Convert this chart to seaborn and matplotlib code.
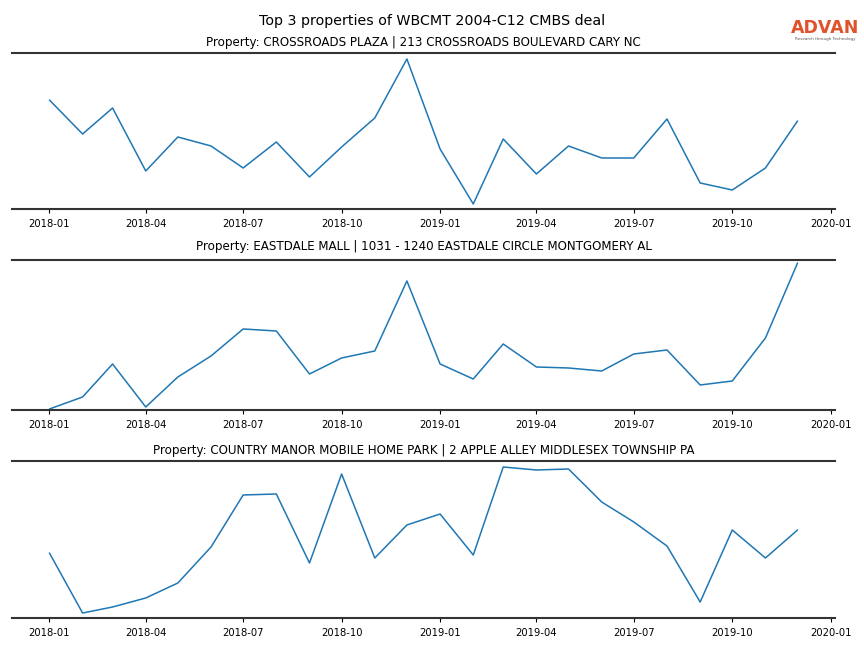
import matplotlib
matplotlib.use("Agg")
import matplotlib.pyplot as plt
import pandas as pd
import numpy as np
import seaborn as sns

sns.set_style("white")
plt.rcParams["text.color"] = "black"
plt.rcParams["axes.titlecolor"] = "black"

## Data (arbitrary units)
months = pd.date_range("2018-01-01", "2019-12-01", freq="MS")

titles = [
    "Property: CROSSROADS PLAZA | 213 CROSSROADS BOULEVARD CARY NC",
    "Property: EASTDALE MALL | 1031 - 1240 EASTDALE CIRCLE MONTGOMERY AL",
    "Property: COUNTRY MANOR MOBILE HOME PARK | 2 APPLE ALLEY MIDDLESEX TOWNSHIP PA",
]

crossroads = [109, 75, 101, 38, 72, 63, 41, 67, 32, 62, 91, 150,
              60, 5, 70, 35, 63, 51, 51, 90, 26, 19, 41, 88]
eastdale = [1, 13, 46, 3, 33, 54, 81, 79, 36, 52, 59, 129,
            46, 31, 66, 43, 42, 39, 56, 60, 25, 29, 72, 147]
country_manor = [65, 5, 11, 20, 35, 71, 123, 124, 55, 144, 60, 93,
                 104, 63, 151, 148, 149, 116, 96, 72, 16, 88, 60, 88]

series = [crossroads, eastdale, country_manor]
y_tops = [156, 150, 157]

fig = plt.figure(figsize=(8.64, 6.48), dpi=100)
rects = [
    [0.0139, 0.6775, 0.9525, 0.2407],
    [0.0139, 0.3673, 0.9525, 0.2315],
    [0.0139, 0.0463, 0.9525, 0.2423],
]
axes = [fig.add_axes(r) for r in rects]
pads = [5, 7.5, 5]

for ax, title, vals, ytop, pad in zip(axes, titles, series, y_tops, pads):
    df = pd.DataFrame({"date": months, "value": vals})
    sns.lineplot(data=df, x="date", y="value", ax=ax, color="#1f77b4", linewidth=1.1)
    ax.set_title(title, fontsize=8.6, pad=pad, color="black")
    ax.set_xlabel("")
    ax.set_ylabel("")
    ax.set_yticks([])
    ax.set_ylim(0, ytop)
    ax.set_xticks(pd.date_range("2018-01-01", "2020-01-01", freq="3MS"))
    ax.xaxis.set_major_formatter(matplotlib.dates.DateFormatter("%Y-%m"))
    ax.tick_params(axis="x", labelsize=7.2, length=3, width=0.8, bottom=True,
                   colors="black", pad=4)
    for side in ["left", "right"]:
        ax.spines[side].set_visible(False)
    for side in ["top", "bottom"]:
        ax.spines[side].set_color("#333333")
        ax.spines[side].set_linewidth(1.5)

fig.suptitle("Top 3 properties of WBCMT 2004-C12 CMBS deal", fontsize=10.3,
             y=0.979, color="black")

## Logo
fig.text(0.955, 0.957, "ADVAN", color="#e0522a", fontsize=12.5, ha="center",
         va="center", fontweight="semibold")
fig.text(0.955, 0.940, "Research through Technology", color="#555555", fontsize=3,
         ha="center", va="center")

fig.savefig("out.png", dpi=100)
